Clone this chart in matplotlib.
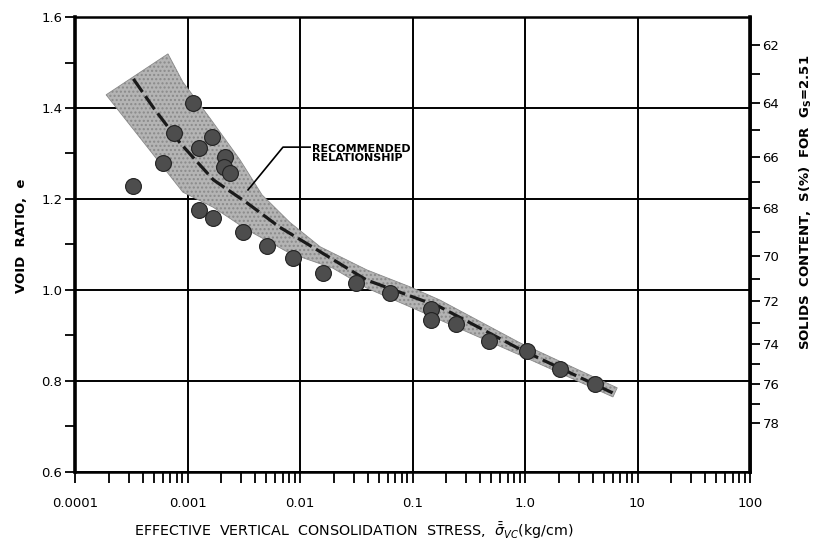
import numpy as np
import matplotlib
matplotlib.use("Agg")
import matplotlib.pyplot as plt
from matplotlib.ticker import LogLocator, FixedLocator, NullFormatter, MultipleLocator

# measured points: effective vertical consolidation stress (kg/cm) vs void ratio
stress = [3.3e-4, 6.0e-4, 7.6e-4, 1.12e-3, 1.26e-3, 1.65e-3, 1.26e-3, 1.68e-3,
          2.15e-3, 2.1e-3, 2.39e-3, 3.1e-3, 5.1e-3, 8.7e-3, 0.016, 0.0315,
          0.063, 0.145, 0.145, 0.246, 0.48, 1.04, 2.05, 4.2]
void_ratio = [1.229, 1.279, 1.345, 1.411, 1.312, 1.336, 1.176, 1.158,
              1.292, 1.270, 1.257, 1.127, 1.097, 1.070, 1.037, 1.015,
              0.993, 0.958, 0.934, 0.925, 0.888, 0.866, 0.826, 0.793]

# recommended relationship
rec_stress = [3.3e-4, 5.0e-4, 8.6e-4, 1.7e-3, 3.4e-3, 6.6e-3, 0.013, 0.039, 0.175, 0.9, 6.0]
rec_e = [1.464, 1.400, 1.323, 1.242, 1.191, 1.138, 1.094, 1.022, 0.963, 0.870, 0.774]

# shaded band limits
band_up_x = [1.89e-4, 6.7e-4, 9.1e-4, 1.58e-3, 2.93e-3, 4.6e-3, 8.1e-3, 0.0151, 0.0394, 0.095, 0.175, 0.90, 6.6]
band_up_e = [1.429, 1.519, 1.457, 1.378, 1.286, 1.209, 1.149, 1.095, 1.044, 1.007, 0.978, 0.884, 0.785]
band_lo_x = [1.89e-4, 9.1e-4, 1.69e-3, 3.4e-3, 8.1e-3, 0.0196, 0.0394, 0.095, 0.90, 6.05]
band_lo_e = [1.429, 1.215, 1.182, 1.132, 1.081, 1.048, 1.004, 0.963, 0.857, 0.765]

x_ticks = [1e-4, 1e-3, 1e-2, 1e-1, 1, 10, 100]
x_labels = ["0.0001", "0.001", "0.01", "0.1", "1.0", "10", "100"]
y_ticks = [0.6, 0.8, 1.0, 1.2, 1.4, 1.6]
s_ticks = [62, 64, 66, 68, 70, 72, 74, 76, 78]
Gs = 2.51


def e_to_s(e):
    return 100.0 * Gs / (Gs + np.asarray(e, dtype=float))


def s_to_e(s):
    s = np.asarray(s, dtype=float)
    with np.errstate(divide="ignore", invalid="ignore"):
        return Gs * (100.0 / s - 1.0)


fig = plt.figure(figsize=(8.19, 5.4), dpi=100)
ax = fig.add_axes([75 / 819, 68 / 540, 675 / 819, 455 / 540])

ax.set_xscale("log")
ax.set_xlim(1e-4, 100)
ax.set_ylim(0.6, 1.6)

# band polygon: upper edge left->right, lower edge right->left
poly_x = band_up_x + band_lo_x[::-1]
poly_e = band_up_e + band_lo_e[::-1]
ax.fill(poly_x, poly_e, facecolor="#b4b4b4", edgecolor="#8a8a8a", lw=0.6,
        hatch="....", zorder=2)

ax.plot(rec_stress, rec_e, color="#1a1a1a", lw=2.3, dashes=(5, 1.6), zorder=3)

ax.scatter(stress, void_ratio, s=130, facecolor="#4d4d4d", edgecolor="#222222",
           linewidth=0.8, zorder=4)

# leader for annotation
ax.plot([0.0123, 7.06e-3, 3.45e-3], [1.314, 1.314, 1.220], color="black", lw=1.2, zorder=5)
ax.text(0.0128, 1.30, "RECOMMENDED\nRELATIONSHIP", fontsize=8, fontweight="bold",
        ha="left", va="center", linespacing=0.95, zorder=5)

ax.grid(True, which="major", color="black", lw=1.4)
ax.set_axisbelow(True)

ax.set_xticks(x_ticks)
ax.set_xticklabels(x_labels)
ax.xaxis.set_minor_locator(LogLocator(base=10, subs=np.arange(2, 10)))
ax.xaxis.set_minor_formatter(NullFormatter())
ax.set_yticks(y_ticks)
ax.set_yticklabels(["%.1f" % v for v in y_ticks])
ax.yaxis.set_minor_locator(MultipleLocator(0.1))

ax.tick_params(axis="x", which="both", direction="out", length=8, width=1.3,
               pad=10, labelsize=9.5, top=False)
ax.tick_params(axis="y", which="both", direction="out", length=7, width=1.3,
               pad=2, labelsize=9.5, right=False)
for sp in ax.spines.values():
    sp.set_linewidth(1.8)
ax.spines["left"].set_linewidth(2.6)

sec = ax.secondary_yaxis("right", functions=(e_to_s, s_to_e))
sec.yaxis.set_major_locator(FixedLocator(s_ticks))
sec.yaxis.set_minor_locator(FixedLocator([63, 65, 67, 69, 71, 73, 75, 77]))
sec.yaxis.set_minor_formatter(NullFormatter())
sec.tick_params(which="both", direction="out", length=7, width=1.3, pad=2, labelsize=9.5)
sec.spines["right"].set_linewidth(2.6)

fig.text(806 / 819, 0.625, "SOLIDS  CONTENT,  S(%)  FOR  G$_\\mathregular{S}$=2.51",
         fontsize=9.5, fontweight="bold", rotation=90, ha="center", va="center")

ax.set_ylabel("VOID  RATIO,  e", fontsize=9.5, fontweight="bold")
ax.yaxis.set_label_coords(-0.07, 0.52)
ax.set_xlabel("EFFECTIVE  VERTICAL  CONSOLIDATION  STRESS,  $\\bar{\\bar{\\sigma}}_{VC}$(kg/cm)",
              fontsize=10.3)
ax.xaxis.set_label_coords(0.413, -0.105)

fig.savefig("out.png", dpi=100)
